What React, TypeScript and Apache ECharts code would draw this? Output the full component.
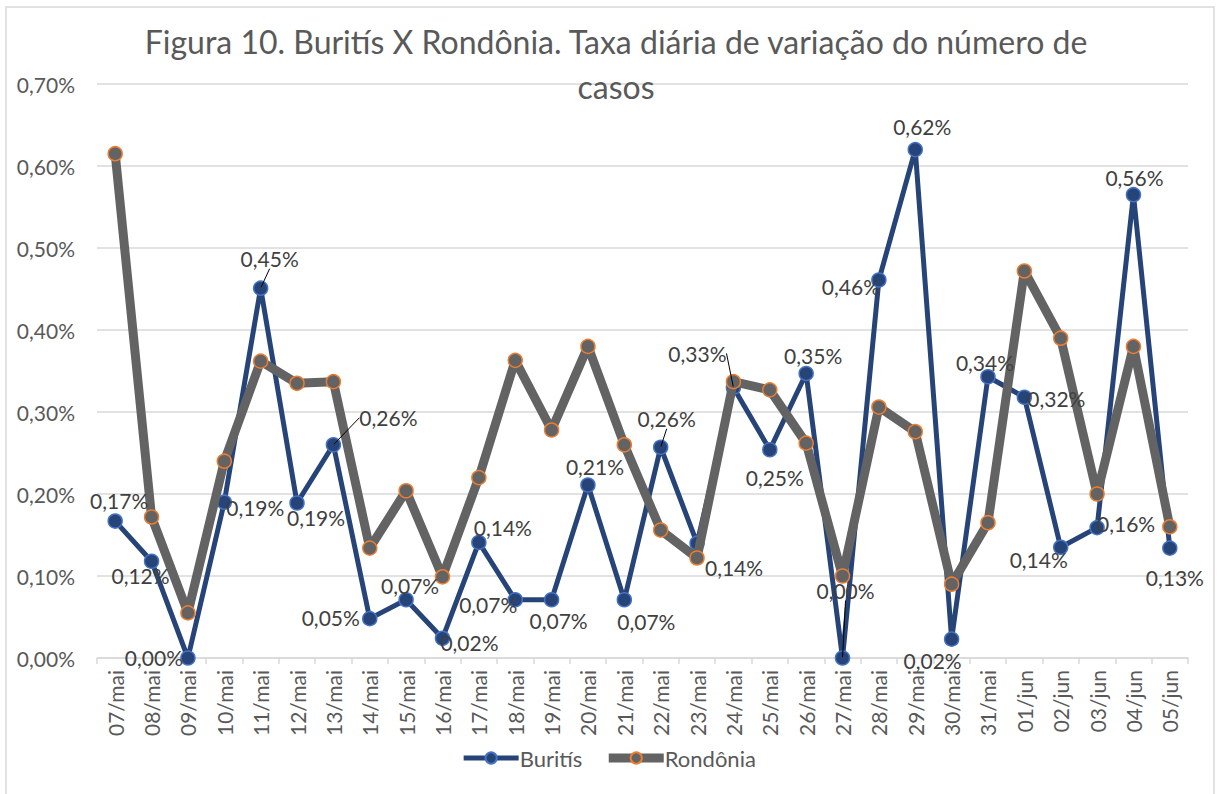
import React, { useEffect, useRef } from "react";
import * as echarts from "echarts";

const categories = [
  "07/mai", "08/mai", "09/mai", "10/mai", "11/mai", "12/mai", "13/mai", "14/mai", "15/mai", "16/mai",
  "17/mai", "18/mai", "19/mai", "20/mai", "21/mai", "22/mai", "23/mai", "24/mai", "25/mai", "26/mai",
  "27/mai", "28/mai", "29/mai", "30/mai", "31/mai", "01/jun", "02/jun", "03/jun", "04/jun", "05/jun",
];

// values in percent
const buritis = [
  0.167, 0.118, 0.0, 0.19, 0.451, 0.189, 0.26, 0.048, 0.071, 0.024,
  0.141, 0.071, 0.071, 0.211, 0.071, 0.257, 0.14, 0.33, 0.254, 0.347,
  0.0, 0.461, 0.62, 0.023, 0.343, 0.318, 0.135, 0.159, 0.565, 0.134,
];

const rondonia = [
  0.615, 0.172, 0.055, 0.24, 0.362, 0.335, 0.337, 0.134, 0.204, 0.099,
  0.22, 0.363, 0.278, 0.38, 0.26, 0.156, 0.122, 0.337, 0.327, 0.262,
  0.1, 0.306, 0.276, 0.09, 0.165, 0.472, 0.39, 0.2, 0.38, 0.16,
];

const yTicks = [0, 0.1, 0.2, 0.3, 0.4, 0.5, 0.6, 0.7];

// label placement (dx, dy from point) — styling only
const labelOffsets: [number, number][] = [
  [4, -21], [-11, 14], [-34, -1], [31, 5], [9, -30], [19, 14], [55, -27], [-39, -1], [4, -14], [27, 4],
  [24, -15], [-27, 5], [7, 21], [7, -18], [22, 22], [6, -29], [37, 24], [-36, -34], [5, 28], [7, -18],
  [3, -68], [-28, 7], [7, -23], [-19, 21], [-3, -14], [32, 1], [-22, 12], [29, -4], [1, -17], [5, 29],
];
const leaderIdx = [4, 6, 15, 17, 20];

const FONT = "Lato";
const fmt = (v: number) => v.toFixed(2).replace(".", ",") + "%";

export default function App() {
  const ref = useRef<HTMLDivElement>(null);
  useEffect(() => {
    if (!ref.current) return;
    const chart = echarts.init(ref.current, undefined, { renderer: "svg" });
    chart.setOption({
      animation: false,
      backgroundColor: "#ffffff",
      textStyle: { fontFamily: FONT },
      title: {
        text: "Figura 10. Buritís X Rondônia. Taxa diária de variação do número de\ncasos",
        left: 611,
        top: 14,
        textAlign: "center",
        textStyle: {
          fontFamily: FONT,
          fontSize: 32,
          fontWeight: "normal",
          color: "#595959",
          lineHeight: 45,
        },
      },
      graphic: [
        {
          type: "rect",
          shape: { x: 6, y: 7, width: 1208, height: 800 },
          style: { fill: "none", stroke: "#d9d9d9", lineWidth: 1.5 },
          silent: true,
        },
      ],
      legend: {
        data: [
          { name: "Buritís", lineStyle: { width: 5, color: "#264478" } },
          { name: "Rondônia", lineStyle: { width: 9, color: "#636363" } },
        ],
        bottom: 20,
        left: "center",
        itemWidth: 55,
        itemHeight: 14,
        itemGap: 22,
        textStyle: { fontFamily: FONT, fontSize: 22, color: "#595959", padding: [0, 0, 0, -4] },
      },
      grid: { left: 97, right: 29, top: 84, bottom: 136 },
      xAxis: {
        type: "category",
        data: categories,
        boundaryGap: true,
        axisLine: { show: true, lineStyle: { color: "#d9d9d9", width: 1.5 } },
        axisTick: { show: true, length: 6, lineStyle: { color: "#d9d9d9", width: 1.5 }, alignWithLabel: false },
        axisLabel: {
          rotate: 90,
          interval: 0,
          margin: 12,
          fontFamily: FONT,
          fontSize: 21,
          color: "#595959",
        },
        splitLine: { show: false },
      },
      yAxis: {
        type: "value",
        min: yTicks[0],
        max: yTicks[yTicks.length - 1],
        interval: 0.1,
        axisLine: { show: false },
        axisTick: { show: false },
        axisLabel: {
          margin: 22,
          fontFamily: FONT,
          fontSize: 21,
          color: "#595959",
          formatter: (v: number) => fmt(v),
        },
        splitLine: { show: true, lineStyle: { color: "#d9d9d9", width: 1.5 } },
      },
      series: [
        {
          name: "Buritís",
          type: "line",
          z: 2,
          data: buritis,
          symbol: "circle",
          symbolSize: 14,
          lineStyle: { color: "#264478", width: 5 },
          itemStyle: { color: "#264478", borderColor: "#4472C4", borderWidth: 1.5 },
        },
        {
          name: "Rondônia",
          type: "line",
          z: 3,
          data: rondonia,
          symbol: "circle",
          symbolSize: 14,
          lineStyle: { color: "#636363", width: 9 },
          itemStyle: { color: "#636363", borderColor: "#ED7D31", borderWidth: 1.5 },
        },
        {
          name: "BuritísLabels",
          type: "line",
          z: 5,
          data: buritis.map((v, i) => ({
            value: v,
            labelLine: { show: leaderIdx.includes(i) },
          })),
          symbol: "circle",
          symbolSize: 2,
          lineStyle: { width: 0, opacity: 0 },
          itemStyle: { color: "transparent", borderWidth: 0 },
          silent: true,
          label: {
            show: true,
            position: "inside",
            fontFamily: FONT,
            fontSize: 21,
            color: "#404040",
            formatter: (p: any) => fmt(p.value),
          },
          labelLine: { show: false, lineStyle: { color: "#000000", width: 1 } },
          labelLayout: (params: any) => {
            const o = labelOffsets[params.dataIndex];
            return { dx: o[0], dy: o[1] };
          },
        },
      ],
    });
    return () => chart.dispose();
  }, []);
  return (
    <div
      ref={ref}
      style={{ position: "fixed", left: 0, top: 0, width: 1217, height: 794 }}
    />
  );
}
